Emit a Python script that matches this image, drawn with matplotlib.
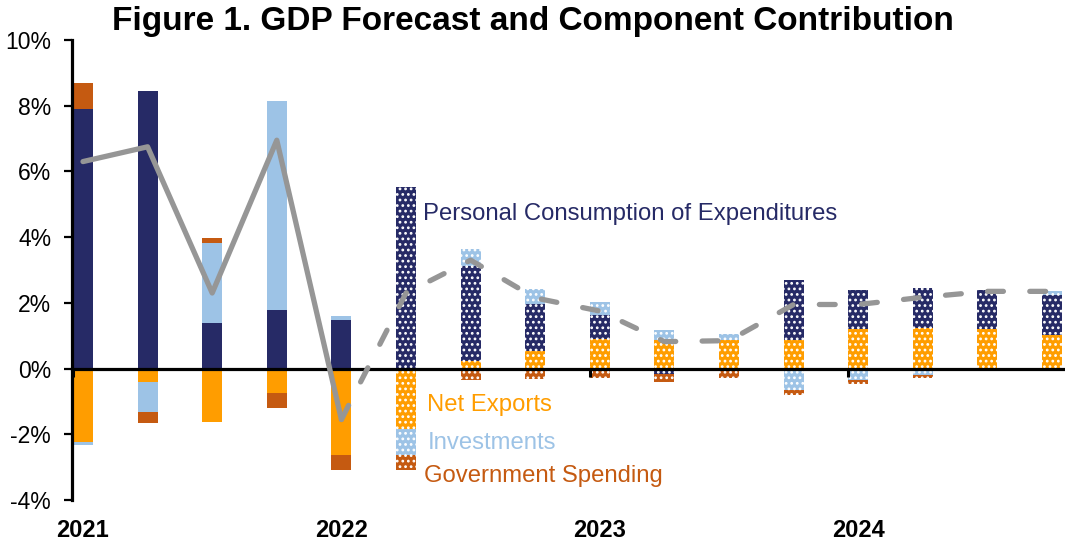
import numpy as np
import matplotlib
matplotlib.use("Agg")
import matplotlib.pyplot as plt

plt.rcParams['font.family'] = ['Liberation Sans', 'DejaVu Sans']
plt.rcParams['hatch.linewidth'] = 1.2

# Quarterly contributions to real GDP growth (percentage points, annualized)
quarters = ['2021Q1', '2021Q2', '2021Q3', '2021Q4',
            '2022Q1', '2022Q2', '2022Q3', '2022Q4',
            '2023Q1', '2023Q2', '2023Q3', '2023Q4',
            '2024Q1', '2024Q2', '2024Q3', '2024Q4']
n_actual = 5  # 2021Q1-2022Q1 are actuals, the rest is forecast

net_exports = [-2.22, -0.40, -1.64, -0.74, -2.63, -1.83, 0.22, 0.53,
               0.90, 0.88, 0.86, 0.86, 1.19, 1.22, 1.19, 1.03]
pce = [7.90, 8.44, 1.38, 1.79, 1.49, 5.54, 2.89, 1.45,
       0.74, -0.18, -0.08, 1.85, 1.21, 1.23, 1.21, 1.22]
investment = [-0.10, -0.92, 2.44, 6.36, 0.12, -0.80, 0.53, 0.45,
              0.38, 0.28, 0.19, -0.64, -0.36, -0.21, 0.00, 0.10]
government = [0.80, -0.35, 0.14, -0.45, -0.46, -0.46, -0.36, -0.31,
              -0.28, -0.22, -0.20, -0.16, -0.11, -0.07, -0.05, -0.03]
gdp = [6.30, 6.75, 2.30, 6.95, -1.55, 2.30, 3.30, 2.15,
       1.75, 0.82, 0.85, 1.95, 1.95, 2.17, 2.35, 2.35]

years = ['2021', '2022', '2023', '2024']

components = [
    ('Net Exports', net_exports, '#ff9d00'),
    ('Personal Consumption of Expenditures', pce, '#262a66'),
    ('Investments', investment, '#9dc3e6'),
    ('Government Spending', government, '#c55a11'),
]

x = np.arange(len(quarters))
width = 0.31

fig = plt.figure(figsize=(10.65, 5.44), dpi=100)
ax = fig.add_axes([72 / 1065, 44 / 544, 1 - 72 / 1065, 460 / 544])

# stack positives upward and negatives downward, series by series
pos_base = np.zeros(len(x))
neg_base = np.zeros(len(x))
for name, vals, col in components:
    vals = np.array(vals)
    base = np.where(vals >= 0, pos_base, neg_base)
    for i in x:
        hatched = i >= n_actual
        ax.bar(i, vals[i], width, bottom=base[i], color=col,
               edgecolor='white' if hatched else col,
               linewidth=0, hatch='...' if hatched else None, zorder=1)
    pos_base += np.where(vals >= 0, vals, 0)
    neg_base += np.where(vals < 0, vals, 0)

# GDP growth: solid for actuals, dashed for forecast
gdp = np.array(gdp)
ax.plot(x[:n_actual], gdp[:n_actual], color='#969696', lw=3.8,
        solid_capstyle='round', solid_joinstyle='round', zorder=3)
ax.plot(x[n_actual - 1:], gdp[n_actual - 1:], color='#969696', lw=3.8,
        linestyle=(0, (3.0, 5.0)), dash_capstyle='round',
        dash_joinstyle='round', zorder=3)

# series labels beside the first forecast bar
label_pos = [(5.32, -1.28), (5.27, 4.53), (5.34, -2.44), (5.28, -3.46)]
for (name, vals, col), (lx, ly) in zip(components, label_pos):
    ax.text(lx, ly, name, color=col, fontsize=17.2, ha='left', va='baseline')

ax.set_xlim(-0.17, 15.2)
ax.set_ylim(-4, 10)
ax.set_yticks(np.arange(-4, 11, 2))
ax.set_yticklabels([f'{v}%' for v in range(-4, 11, 2)], fontsize=16.5)
ax.tick_params(axis='y', direction='out', length=6, width=1.6, pad=9)

year_pos = x[::4]
ax.set_xticks(year_pos - width / 2)
ax.set_xticklabels([])
ax.tick_params(axis='x', direction='out', length=6, width=2.2)
for xp, yr in zip(year_pos, years):
    ax.text(xp, -0.066, yr, transform=ax.get_xaxis_transform(),
            ha='center', va='center', fontsize=17, fontweight='bold')

for s in ['top', 'right']:
    ax.spines[s].set_visible(False)
ax.spines['bottom'].set_position(('data', 0))
ax.spines['bottom'].set_linewidth(2.3)
ax.spines['left'].set_linewidth(2.3)

fig.text(0.5, 1 - 30 / 544, 'Figure 1. GDP Forecast and Component Contribution',
         ha='center', va='baseline', fontsize=24, fontweight='bold')

fig.savefig('out.png', dpi=100)
